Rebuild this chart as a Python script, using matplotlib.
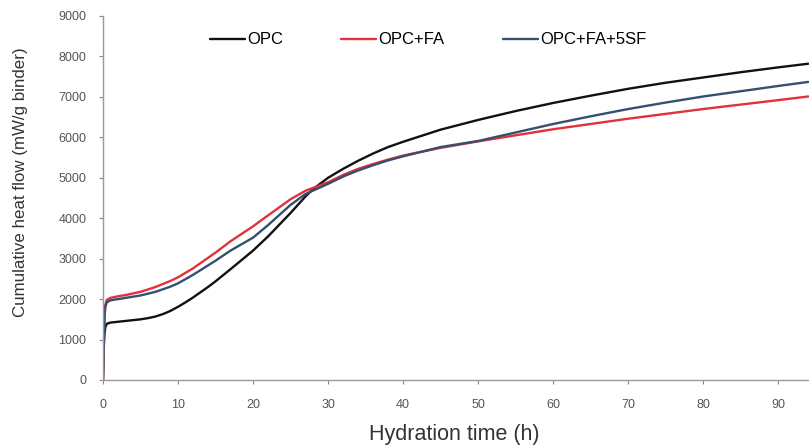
import matplotlib
matplotlib.use("Agg")
import matplotlib.pyplot as plt

plt.rcParams['font.family'] = ['Liberation Sans', 'DejaVu Sans']

# Hydration time (h)
t_opc = [0, 0.05, 0.1, 0.2, 0.3, 0.5, 1, 2, 3, 4, 5, 6, 7, 8, 9, 10, 11, 12, 13, 14, 15, 17, 20, 22, 25,
         27, 28, 30, 32, 34, 36, 38, 40, 45, 50, 55, 60, 65, 70, 75, 80, 85, 90, 94]
opc = [0, 400, 800, 1150, 1300, 1390, 1420, 1440, 1460, 1480, 1500, 1530, 1570, 1630, 1710, 1810, 1920,
       2040, 2170, 2300, 2440, 2740, 3200, 3550, 4130, 4540, 4720, 5000, 5220, 5420, 5600, 5760, 5890,
       6190, 6430, 6650, 6850, 7030, 7200, 7350, 7480, 7610, 7730, 7820]

t_fa = [0, 0.05, 0.1, 0.2, 0.3, 0.5, 1, 2, 3, 5, 7, 9, 10, 12, 15, 17, 20, 22, 25, 27, 30, 32, 34, 36, 38,
        40, 45, 50, 55, 60, 65, 70, 75, 80, 85, 90, 94]
fa = [0, 500, 1000, 1600, 1850, 1980, 2030, 2070, 2100, 2180, 2300, 2450, 2540, 2760, 3150, 3430, 3800,
      4070, 4470, 4680, 4890, 5070, 5220, 5340, 5450, 5550, 5740, 5900, 6050, 6200, 6330, 6460, 6580,
      6700, 6810, 6920, 7010]

t_sf = [0, 0.05, 0.1, 0.2, 0.3, 0.5, 1, 2, 3, 5, 7, 9, 10, 12, 15, 17, 20, 22, 25, 27, 30, 32, 34, 36, 38,
        40, 45, 50, 55, 60, 65, 70, 75, 80, 85, 90, 94]
sf = [0, 480, 950, 1550, 1800, 1920, 1970, 2000, 2030, 2090, 2180, 2310, 2390, 2600, 2950, 3200, 3520,
      3830, 4330, 4600, 4850, 5030, 5180, 5310, 5430, 5530, 5760, 5910, 6120, 6330, 6520, 6700, 6860,
      7010, 7140, 7270, 7370]

labels = ['OPC', 'OPC+FA', 'OPC+FA+5SF']
colors = ['#111111', '#e2303c', '#34506e']

x_ticks = [0, 10, 20, 30, 40, 50, 60, 70, 80, 90]
y_ticks = [0, 1000, 2000, 3000, 4000, 5000, 6000, 7000, 8000, 9000]

fig = plt.figure(figsize=(8.09, 4.45), dpi=100)
ax = fig.add_axes([103/809, 65/445, 1 - 103/809, (380-16)/445])

for tt, vv, lab, c in zip([t_opc, t_fa, t_sf], [opc, fa, sf], labels, colors):
    ax.plot(tt, vv, color=c, lw=1.7, label=lab, solid_capstyle='round', solid_joinstyle='round')

ax.set_xlim(0, 94.1)
ax.set_ylim(0, 9000)
ax.set_xticks(x_ticks)
ax.set_yticks(y_ticks)
ax.tick_params(axis='both', colors='#888888', labelcolor='#555555', labelsize=9, length=3, width=0.8)
ax.tick_params(axis='y', pad=9)
ax.tick_params(axis='x', pad=11)
for s in ['top', 'right']:
    ax.spines[s].set_visible(False)
for s in ['left', 'bottom']:
    ax.spines[s].set_color('#999999')
    ax.spines[s].set_linewidth(1.0)

ax.set_xlabel('Hydration time (h)', fontsize=15.5, color='#333333')
ax.xaxis.set_label_coords((454 - 103) / 706, (380 - 424) / 364)
ax.set_ylabel('Cumulative heat flow (mW/g binder)', fontsize=12.2, color='#333333')
ax.yaxis.set_label_coords((28 - 103) / 706, (380 - 182) / 364)

ax.legend(loc='center left', bbox_to_anchor=((210 - 103) / 706, (380 - 40) / 364), ncol=3,
          frameon=False, fontsize=12, handlelength=2.1, handletextpad=0.12, columnspacing=3.5,
          borderpad=0, borderaxespad=0)

fig.savefig('out.png', dpi=100)
